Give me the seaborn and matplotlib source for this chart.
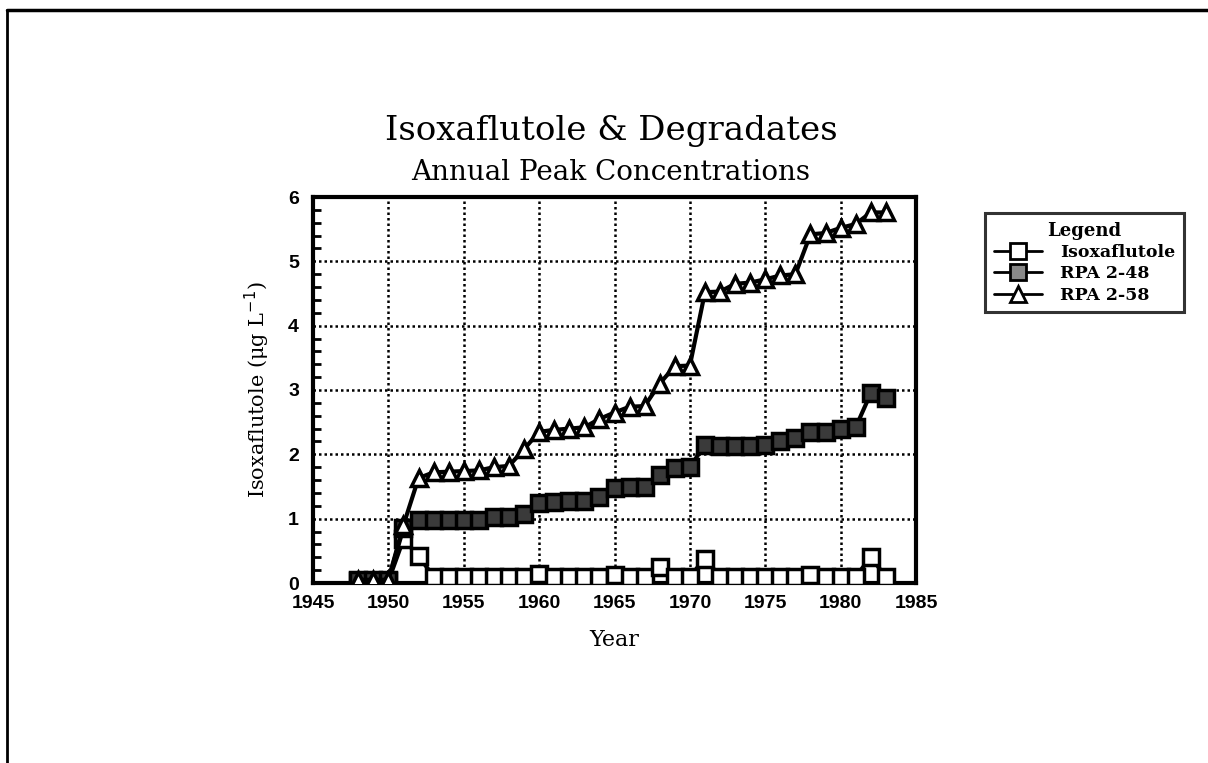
import numpy as np
import pandas as pd
import matplotlib
matplotlib.use("Agg")
import matplotlib.pyplot as plt
from matplotlib.lines import Line2D
from matplotlib.ticker import MultipleLocator
import seaborn as sns

years = list(range(1948, 1984))

isoxaflutole = [0.03, 0.03, 0.03, 0.68, 0.42, 0.10, 0.10, 0.10, 0.10, 0.10,
                0.10, 0.10, 0.14, 0.10, 0.10, 0.10, 0.10, 0.13, 0.10, 0.10,
                0.25, 0.10, 0.10, 0.38, 0.10, 0.10, 0.10, 0.10, 0.10, 0.10,
                0.13, 0.10, 0.10, 0.10, 0.40, 0.10]

rpa_248 = [0.05, 0.05, 0.05, 0.85, 0.98, 0.98, 0.98, 0.98, 0.98, 1.03,
           1.03, 1.08, 1.24, 1.26, 1.27, 1.28, 1.33, 1.47, 1.50, 1.50,
           1.68, 1.79, 1.80, 2.15, 2.13, 2.13, 2.13, 2.14, 2.20, 2.25,
           2.35, 2.35, 2.40, 2.42, 2.95, 2.88]

rpa_258 = [0.05, 0.05, 0.05, 0.90, 1.63, 1.72, 1.73, 1.74, 1.75, 1.80,
           1.82, 2.08, 2.35, 2.38, 2.40, 2.42, 2.55, 2.65, 2.74, 2.75,
           3.10, 3.37, 3.38, 4.52, 4.53, 4.65, 4.67, 4.72, 4.78, 4.80,
           5.42, 5.44, 5.52, 5.58, 5.76, 5.76]

series_names = ["Isoxaflutole", "RPA 2-48", "RPA 2-58"]
x_ticks = [1945, 1950, 1955, 1960, 1965, 1970, 1975, 1980, 1985]
y_ticks = [0, 1, 2, 3, 4, 5, 6]

df = pd.DataFrame({"Year": years, series_names[0]: isoxaflutole,
                   series_names[1]: rpa_248, series_names[2]: rpa_258})

sns.set_style("white")
plt.rcParams["font.family"] = ["DejaVu Serif", "DejaVu Sans"]
plt.rcParams["text.color"] = "k"
plt.rcParams["axes.labelcolor"] = "k"
plt.rcParams["xtick.color"] = "k"
plt.rcParams["ytick.color"] = "k"

W, H = 1208, 763
fig = plt.figure(figsize=(W / 100, H / 100), dpi=100)
ax = fig.add_axes([313 / W, 1 - 583 / H, (916 - 313) / W, (583 - 197) / H])

# Серии
sns.lineplot(data=df, x="Year", y=series_names[0], ax=ax, color="k", lw=3,
             marker="s", markersize=11, markerfacecolor="white",
             markeredgecolor="k", markeredgewidth=2.5, zorder=3,
             label=series_names[0], legend=False)
sns.lineplot(data=df, x="Year", y=series_names[1], ax=ax, color="k", lw=3,
             marker="s", markersize=11, markerfacecolor="#3a3a3a",
             markeredgecolor="k", markeredgewidth=2.5, zorder=4,
             label=series_names[1], legend=False)
sns.lineplot(data=df, x="Year", y=series_names[2], ax=ax, color="k", lw=3,
             marker="^", markersize=12, markerfacecolor="white",
             markeredgecolor="k", markeredgewidth=2.5, zorder=5,
             label=series_names[2], legend=False)

ax.set_xlim(1945, 1985)
ax.set_ylim(0, 6)
ax.set_xticks(x_ticks)
ax.set_yticks(y_ticks)
ax.yaxis.set_minor_locator(MultipleLocator(0.2))
ax.grid(True, which="major", color="k", linestyle=(0, (1, 1.2)), lw=1.8)

for s in ax.spines.values():
    s.set_linewidth(3)
    s.set_color("k")

ax.tick_params(axis="x", length=0, pad=9)
ax.tick_params(axis="y", which="major", direction="in", length=10, width=2, pad=10)
ax.tick_params(axis="y", which="minor", direction="in", length=6, width=2, left=True)
for lab in ax.get_xticklabels() + ax.get_yticklabels():
    lab.set_fontfamily("Liberation Sans")
    lab.set_fontweight("bold")
    lab.set_fontsize(14)

ax.set_xlabel("Year", fontsize=16, labelpad=12)
ax.set_ylabel("Isoxaflutole (\u03bcg L$^{-1}$)", fontsize=15, labelpad=12)

# Заголовок
fig.text(611 / W, 1 - 140 / H, "Isoxaflutole & Degradates", ha="center",
         va="baseline", fontsize=24.5)
fig.text(611 / W, 1 - 180 / H, "Annual Peak Concentrations", ha="center",
         va="baseline", fontsize=20)

# Легенда
handles = [
    Line2D([], [], color="k", lw=2, marker="s", markersize=11,
           markerfacecolor="white", markeredgecolor="k", markeredgewidth=2),
    Line2D([], [], color="k", lw=2, marker="s", markersize=11,
           markerfacecolor="#888888", markeredgecolor="k", markeredgewidth=2),
    Line2D([], [], color="k", lw=2, marker="^", markersize=12,
           markerfacecolor="white", markeredgecolor="k", markeredgewidth=2),
]
leg = fig.legend(handles, series_names, loc="upper left",
                 bbox_to_anchor=(985 / W, 1 - 213 / H), borderaxespad=0,
                 frameon=True, fancybox=False, handlelength=2.8,
                 handletextpad=1.0, borderpad=0.5, labelspacing=0.25,
                 title="Legend",
                 prop={"family": "DejaVu Serif", "weight": "bold", "size": 12.5},
                 title_fontproperties={"family": "DejaVu Serif",
                                       "weight": "bold", "size": 13})
leg.get_frame().set_edgecolor("k")
leg.get_frame().set_linewidth(2.2)

# Рамка страницы
fig.add_artist(Line2D([7 / W, 7 / W], [1 - 10 / H, 0], color="k", lw=2))
fig.add_artist(Line2D([7 / W, 1], [1 - 10 / H, 1 - 10 / H], color="k", lw=2.5))

fig.savefig("out.png", dpi=100)
